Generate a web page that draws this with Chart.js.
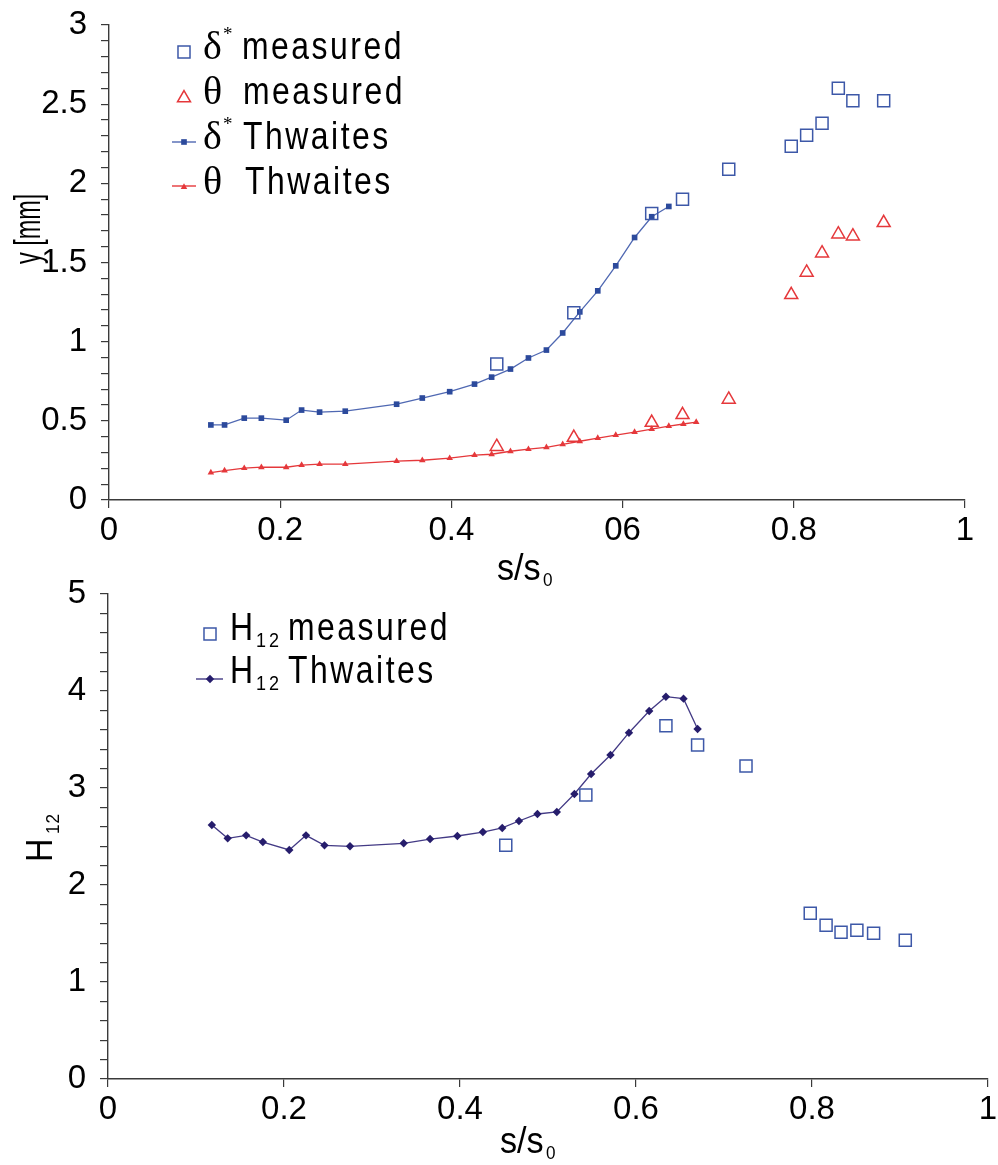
<!DOCTYPE html>
<html><head><meta charset="utf-8">
<script src="https://cdn.jsdelivr.net/npm/chart.js@4"></script>
<style>
html,body{margin:0;padding:0;background:#fff;width:998px;height:1165px;overflow:hidden}
#w1{position:absolute;left:0;top:0;width:998px;height:600px;z-index:2}
#w2{position:absolute;left:0;top:540px;width:998px;height:625px;z-index:1}
</style></head><body>
<div id="w1"><canvas id="c1"></canvas></div>
<div id="w2"><canvas id="c2"></canvas></div>
<script>
// ---------- data ----------
const sDeltaThw = [0.119,0.135,0.158,0.178,0.207,0.225,0.246,0.276,0.336,0.366,0.398,0.427,0.447,0.469,0.490,0.511,0.530,0.550,0.571,0.592,0.614,0.634,0.654];
const deltaThw  = [0.474,0.474,0.517,0.517,0.504,0.568,0.555,0.561,0.605,0.644,0.684,0.732,0.776,0.827,0.897,0.947,1.055,1.188,1.321,1.479,1.658,1.789,1.854];
const sThetaThw = [0.119,0.135,0.158,0.178,0.207,0.225,0.246,0.276,0.336,0.366,0.398,0.427,0.447,0.469,0.490,0.511,0.530,0.550,0.571,0.592,0.614,0.634,0.654,0.671,0.686];
const thetaThw  = [0.173,0.186,0.201,0.207,0.207,0.220,0.226,0.226,0.245,0.251,0.264,0.283,0.289,0.308,0.321,0.333,0.352,0.371,0.391,0.410,0.429,0.448,0.467,0.480,0.492];
const sMeas     = [0.453,0.543,0.634,0.670,0.724,0.797,0.815,0.833,0.852,0.869,0.905];
const deltaMeas = [0.859,1.182,1.810,1.899,2.089,2.234,2.304,2.380,2.601,2.521,2.521];
const thetaMeas = [0.337,0.394,0.489,0.538,0.635,1.296,1.437,1.559,1.679,1.666,1.751];

const sH12Thw   = [0.118,0.136,0.157,0.176,0.206,0.225,0.246,0.275,0.336,0.366,0.397,0.426,0.448,0.467,0.488,0.510,0.530,0.549,0.571,0.592,0.615,0.634,0.654,0.670];
const h12Thw    = [2.619,2.481,2.512,2.443,2.361,2.512,2.409,2.399,2.430,2.474,2.505,2.546,2.588,2.660,2.732,2.753,2.938,3.144,3.340,3.570,3.794,3.941,3.921,3.608];
const sH12Meas  = [0.452,0.543,0.634,0.670,0.725,0.798,0.816,0.833,0.851,0.870,0.906];
const h12Meas   = [2.409,2.928,3.642,3.443,3.227,1.708,1.585,1.512,1.533,1.502,1.430];

const topXTickLabels = ['0','0.2','0.4','06','0.8','1'];
const botXTickLabels = ['0','0.2','0.4','0.6','0.8','1'];
const topYTickLabels = ['0','0.5','1','1.5','2','2.5','3'];
const botYTickLabels = ['0','1','2','3','4','5'];

// ---------- styling ----------
const SANS = "'Liberation Sans Narrow','Arial Narrow','Liberation Sans',Arial,sans-serif";
const SERIF = "'Liberation Serif','DejaVu Serif',serif";
const BLUE_OPEN = '#3d58a8', BLUE_FILL = '#2c4a9c', BLUE_LINE = '#4f68b2';
const RED = '#e5383b';
const NAVY = '#261d6c', NAVY_LINE = '#433a85';
const AXIS = '#3a3a3a';
const SX = 0.84; // horizontal condensing for narrow-looking text

const pts = (xs, ys) => xs.map((x, i) => ({x, y: ys[i]}));

function markerPath(ctx, style, x, y, r) {
  ctx.beginPath();
  if (style === 'rect') { const s = r * Math.SQRT1_2; ctx.rect(x - s, y - s, 2*s, 2*s); }
  else if (style === 'triangle') {
    ctx.moveTo(x, y - r);
    ctx.lineTo(x + r*Math.sin(2*Math.PI/3), y - r*Math.cos(2*Math.PI/3));
    ctx.lineTo(x + r*Math.sin(4*Math.PI/3), y - r*Math.cos(4*Math.PI/3));
    ctx.closePath();
  } else if (style === 'rectRot') {
    ctx.moveTo(x, y - r); ctx.lineTo(x + r, y); ctx.lineTo(x, y + r); ctx.lineTo(x - r, y); ctx.closePath();
  }
}
function drawMarker(ctx, style, x, y, r, fill, stroke, lw) {
  markerPath(ctx, style, x, y, r);
  if (fill) { ctx.fillStyle = fill; ctx.fill(); }
  if (stroke) { ctx.strokeStyle = stroke; ctx.lineWidth = lw; ctx.stroke(); }
}
function drawParts(ctx, y, parts) {
  ctx.fillStyle = '#000';
  ctx.textBaseline = 'alphabetic';
  ctx.textAlign = 'left';
  for (const p of parts) {
    ctx.font = p.font;
    let cx = p.x;
    const sp = p.sp || 0, sx = p.sx || 1;
    for (const ch of p.t) {
      ctx.save();
      ctx.translate(cx, y + (p.dy || 0));
      ctx.scale(sx, 1);
      ctx.fillText(ch, 0, 0);
      ctx.restore();
      cx += ctx.measureText(ch).width * sx + sp;
    }
  }
}

function axisCommon(min, max, step, labelFn, isX) {
  return {
    type: 'linear', min, max,
    ticks: {
      stepSize: step, maxTicksLimit: 200, autoSkip: false, maxRotation: 0, minRotation: 0,
      color: '#000', font: {family: SANS, size: 33}, padding: isX ? 3 : 14,
      callback: labelFn
    },
    grid: {display: true, drawOnChartArea: false, drawTicks: true, tickLength: 8, color: AXIS, lineWidth: 1.2},
    border: {display: true, color: AXIS, width: 1.4}
  };
}

// ---------- top chart ----------
const topX = axisCommon(0, 1, 0.2, v => topXTickLabels[Math.round(v / 0.2)] ?? '', true);
topX.afterFit = s => { s.height = 100; s.paddingLeft = 0; s.paddingRight = 0; };
const topY = axisCommon(0, 3, 0.1, v => { const k = Math.round(v * 10); return k % 5 === 0 ? topYTickLabels[k / 5] : ''; }, false);
topY.afterFit = s => { s.width = 109; s.paddingTop = 0; s.paddingBottom = 0; };

const LEG = `38px ${SANS}`;
const topDecor = {
  id: 'topDecor',
  afterDraw(chart) {
    const ctx = chart.ctx; ctx.save();
    // legend
    drawMarker(ctx, 'rect', 184, 52, 8.5, null, BLUE_OPEN, 1.5);
    drawParts(ctx, 59, [{x: 203, t: 'δ', font: `40px ${SERIF}`}, {x: 223, t: '*', font: `19px ${SERIF}`, dy: -19}, {x: 242, t: 'measured', font: LEG, sp: 2.5, sx: SX}]);
    drawMarker(ctx, 'triangle', 184, 98, 7.5, null, RED, 1.5);
    drawParts(ctx, 104, [{x: 203, t: 'θ', font: `40px ${SERIF}`}, {x: 243, t: 'measured', font: LEG, sp: 2.5, sx: SX}]);
    ctx.strokeStyle = BLUE_LINE; ctx.lineWidth = 1.4; ctx.beginPath(); ctx.moveTo(172, 142); ctx.lineTo(196, 142); ctx.stroke();
    drawMarker(ctx, 'rect', 184, 142, 4, BLUE_FILL, null, 0);
    drawParts(ctx, 149, [{x: 203, t: 'δ', font: `40px ${SERIF}`}, {x: 223, t: '*', font: `19px ${SERIF}`, dy: -19}, {x: 243, t: 'Thwaites', font: LEG, sp: 2.5, sx: SX}]);
    ctx.strokeStyle = RED; ctx.lineWidth = 1.4; ctx.beginPath(); ctx.moveTo(172, 186); ctx.lineTo(196, 186); ctx.stroke();
    drawMarker(ctx, 'triangle', 184, 187, 3.8, RED, null, 0);
    drawParts(ctx, 194, [{x: 203, t: 'θ', font: `40px ${SERIF}`}, {x: 245, t: 'Thwaites', font: LEG, sp: 2.5, sx: SX}]);
    // axis titles
    drawParts(ctx, 580, [{x: 497, t: 's/s', font: `36px ${SANS}`, sx: 0.95}, {x: 543, t: '0', font: `19px ${SANS}`, dy: 6, sx: 0.9}]);
    ctx.translate(40, 264); ctx.rotate(-Math.PI / 2);
    drawParts(ctx, 0, [{x: 0, t: 'y [mm]', font: `36px ${SANS}`, sx: 0.65}]);
    ctx.restore();
  }
};

new Chart(document.getElementById('c1'), {
  type: 'scatter',
  data: {datasets: [
    {label: 'δ* measured', data: pts(sMeas, deltaMeas), pointStyle: 'rect', pointRadius: 8.5, borderColor: BLUE_OPEN, backgroundColor: 'rgba(0,0,0,0)', pointBorderWidth: 1.5, showLine: false},
    {label: 'θ measured', data: pts(sMeas, thetaMeas), pointStyle: 'triangle', pointRadius: 7.5, borderColor: RED, backgroundColor: 'rgba(0,0,0,0)', pointBorderWidth: 1.5, showLine: false},
    {label: 'δ* Thwaites', data: pts(sDeltaThw, deltaThw), pointStyle: 'rect', pointRadius: 4, borderColor: BLUE_LINE, backgroundColor: BLUE_FILL, pointBorderColor: BLUE_FILL, pointBorderWidth: 0, borderWidth: 1.3, showLine: true, tension: 0},
    {label: 'θ Thwaites', data: pts(sThetaThw, thetaThw), pointStyle: 'triangle', pointRadius: 3.8, borderColor: RED, backgroundColor: RED, pointBorderWidth: 0, borderWidth: 1.3, showLine: true, tension: 0}
  ]},
  options: {
    responsive: true, maintainAspectRatio: false, animation: false, devicePixelRatio: 1,
    layout: {padding: {top: 25, right: 33, left: 0, bottom: 0}},
    plugins: {legend: {display: false}, tooltip: {enabled: false}},
    scales: {x: topX, y: topY}
  },
  plugins: [topDecor]
});

// ---------- bottom chart ----------
const OY = 540;
const botX = axisCommon(0, 1, 0.2, v => botXTickLabels[Math.round(v / 0.2)] ?? '', true);
botX.afterFit = s => { s.height = 86; s.paddingLeft = 0; s.paddingRight = 0; };
const botY = axisCommon(0, 5, 0.2, v => { const k = Math.round(v * 5); return k % 5 === 0 ? botYTickLabels[k / 5] : ''; }, false);
botY.afterFit = s => { s.width = 108; s.paddingTop = 0; s.paddingBottom = 0; };

const botDecor = {
  id: 'botDecor',
  afterDraw(chart) {
    const ctx = chart.ctx; ctx.save();
    drawMarker(ctx, 'rect', 210, 634 - OY, 8.5, null, BLUE_OPEN, 1.5);
    drawParts(ctx, 640 - OY, [{x: 230, t: 'H', font: LEG, sx: SX}, {x: 256, t: '12', font: `20px ${SANS}`, dy: 7, sp: 3, sx: 0.9}, {x: 288, t: 'measured', font: LEG, sp: 2.5, sx: SX}]);
    ctx.strokeStyle = NAVY_LINE; ctx.lineWidth = 1.4; ctx.beginPath(); ctx.moveTo(196, 679 - OY); ctx.lineTo(223, 679 - OY); ctx.stroke();
    drawMarker(ctx, 'rectRot', 210, 679 - OY, 4.2, NAVY, null, 0);
    drawParts(ctx, 683 - OY, [{x: 230, t: 'H', font: LEG, sx: SX}, {x: 256, t: '12', font: `20px ${SANS}`, dy: 7, sp: 3, sx: 0.9}, {x: 288, t: 'Thwaites', font: LEG, sp: 2.5, sx: SX}]);
    drawParts(ctx, 1153 - OY, [{x: 500, t: 's/s', font: `36px ${SANS}`, sx: 0.95}, {x: 546, t: '0', font: `19px ${SANS}`, dy: 6, sx: 0.9}]);
    ctx.translate(52, 862 - OY); ctx.rotate(-Math.PI / 2);
    drawParts(ctx, 0, [{x: 0, t: 'H', font: `36px ${SANS}`, sx: 0.9}, {x: 28, t: '12', font: `19px ${SANS}`, dy: 7, sp: 1, sx: 0.9}]);
    ctx.restore();
  }
};

new Chart(document.getElementById('c2'), {
  type: 'scatter',
  data: {datasets: [
    {label: 'H12 measured', data: pts(sH12Meas, h12Meas), pointStyle: 'rect', pointRadius: 8.5, borderColor: BLUE_OPEN, backgroundColor: 'rgba(0,0,0,0)', pointBorderWidth: 1.5, showLine: false},
    {label: 'H12 Thwaites', data: pts(sH12Thw, h12Thw), pointStyle: 'rectRot', pointRadius: 4.2, borderColor: NAVY_LINE, backgroundColor: NAVY, pointBorderWidth: 0, borderWidth: 1.3, showLine: true, tension: 0}
  ]},
  options: {
    responsive: true, maintainAspectRatio: false, animation: false, devicePixelRatio: 1,
    layout: {padding: {top: 54, right: 10, left: 0, bottom: 0}},
    plugins: {legend: {display: false}, tooltip: {enabled: false}},
    scales: {x: botX, y: botY}
  },
  plugins: [botDecor]
});
</script>
</body></html>
